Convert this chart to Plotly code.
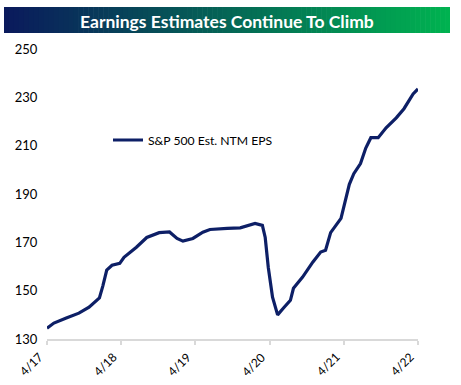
import plotly.graph_objects as go

dates = ["2017-04-01","2017-05-05","2017-07-05","2017-09-05","2017-10-25","2017-12-15",
         "2018-01-01","2018-01-20","2018-02-15","2018-03-25","2018-04-15","2018-06-15",
         "2018-08-05","2018-10-05","2018-11-25","2019-01-01","2019-01-30","2019-03-20",
         "2019-05-08","2019-06-12","2019-09-05","2019-11-08","2020-01-20","2020-02-25",
         "2020-03-10","2020-03-25","2020-04-15","2020-05-10","2020-06-08","2020-07-12",
         "2020-07-27","2020-09-10","2020-10-30","2020-12-08","2021-01-01","2021-01-26",
         "2021-03-18","2021-04-05","2021-04-28","2021-05-20","2021-06-22","2021-07-18",
         "2021-08-12","2021-09-17","2021-10-26","2021-12-15","2022-01-22","2022-03-08",
         "2022-04-01"]
eps = [134.5,136.6,138.7,140.7,143.2,147.0,
       152.0,158.5,160.5,161.3,163.8,168.0,
       172.0,174.0,174.3,171.6,170.5,171.6,
       174.2,175.3,175.8,176.0,177.8,177.0,
       172.0,159.7,147.3,140.0,142.8,146.0,
       151.0,155.6,161.8,166.0,166.7,174.0,
       179.9,186.0,194.0,198.4,202.6,209.0,
       213.3,213.3,217.4,221.5,225.3,231.4,
       233.5]

tick_vals = ["2017-04-01","2018-04-01","2019-04-01","2020-04-01","2021-04-01","2022-04-01"]
tick_text = ["4/17","4/18","4/19","4/20","4/21","4/22"]
y_ticks = [130,150,170,190,210,230,250]

title = "Earnings Estimates Continue To Climb"
series_name = "S&P 500 Est. NTM EPS"

fig = go.Figure()
fig.add_trace(go.Scatter(x=dates, y=eps, mode="lines", name=series_name,
                         line=dict(color="#0d1f66", width=3.2)))

W, H = 461, 385
ml, mr, mt, mb = 47, 43, 49, 46

def lerp(a, b, t):
    return int(round(a + (b - a) * t))
c0 = (10, 26, 92)
c1 = (0, 178, 80)
x0p, x1p = 4, 450
y0p, y1p = 7, 33
n = 90
shapes = []
pw = W - ml - mr
ph = H - mt - mb
for i in range(n):
    t = i / (n - 1)
    col = "rgb(%d,%d,%d)" % (lerp(c0[0], c1[0], t), lerp(c0[1], c1[1], t), lerp(c0[2], c1[2], t))
    xa = x0p + (x1p - x0p) * i / n
    xb = x0p + (x1p - x0p) * (i + 1) / n + 0.6
    shapes.append(dict(type="rect", xref="paper", yref="paper", layer="above",
                       x0=(xa - ml) / pw, x1=(min(xb, x1p) - ml) / pw,
                       y0=(H - mb - y1p) / ph, y1=(H - mb - y0p) / ph,
                       line=dict(width=0), fillcolor=col))

annotations = [dict(text="<b>" + title + "</b>", xref="paper", yref="paper",
                    x=((x0p + x1p) / 2 - ml) / pw, y=(H - mb - (y0p + y1p) / 2 - 1) / ph,
                    xanchor="center", yanchor="middle", showarrow=False,
                    font=dict(family="Lato", size=17.5, color="white"))]
# rotated x tick labels, anchored at each tick through the x axis scale
for tv, tt in zip(tick_vals, tick_text):
    annotations.append(dict(text=tt, x=tv, xref="x", y=0, yref="paper",
                            xanchor="right", yanchor="top", textangle=-45,
                            yshift=-8, xshift=1, showarrow=False,
                            font=dict(family="Lato", size=12, color="#000000")))

fig.update_layout(
    width=W, height=H,
    margin=dict(l=ml, r=mr, t=mt, b=mb),
    paper_bgcolor="white", plot_bgcolor="white",
    shapes=shapes,
    annotations=annotations,
    showlegend=True,
    legend=dict(x=(108 - ml) / pw, y=(H - mb - 140) / ph, xanchor="left", yanchor="middle",
                itemwidth=30,
                bgcolor="rgba(0,0,0,0)", font=dict(family="Lato", size=12.2, color="#000000")),
    xaxis=dict(type="date", range=["2017-04-01", "2022-04-01"],
               tickvals=tick_vals, ticktext=tick_text, showticklabels=False,
               showgrid=False, zeroline=False, showline=True, linecolor="#d9d9d9", linewidth=2,
               ticks="outside", ticklen=4, tickcolor="#d9d9d9", tickwidth=2),
    yaxis=dict(range=[130, 250], tickvals=y_ticks, showgrid=False, zeroline=False,
               showline=False, ticks="outside", ticklen=6, tickcolor="rgba(0,0,0,0)",
               tickfont=dict(family="Lato", size=13, color="#000000")),
)

fig.write_html("out.html", config={"displayModeBar": False},
               post_script="document.body.style.margin='0px';")
